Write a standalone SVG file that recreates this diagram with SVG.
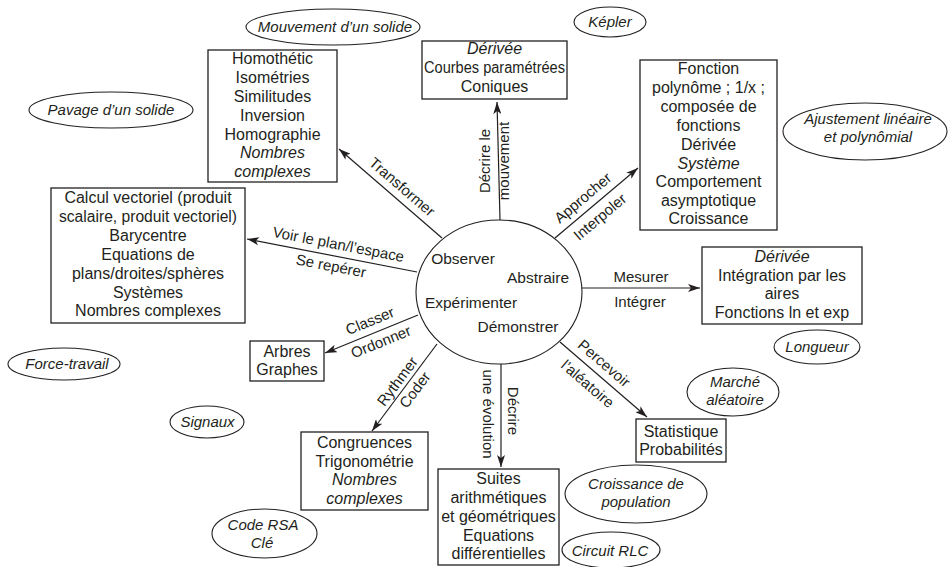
<svg xmlns="http://www.w3.org/2000/svg" width="948" height="567" viewBox="0 0 948 567">
<defs>
<marker id="arr" viewBox="0 0 12 8" refX="12" refY="4" markerWidth="12" markerHeight="8" markerUnits="userSpaceOnUse" orient="auto">
<path d="M0,0 L12,4 L0,8 L3,4 z" fill="#231f20"/>
</marker>
</defs>
<style>
text{font-family:"Liberation Sans",Arial,sans-serif;fill:#231f20;text-anchor:middle}
.b{font-size:16px}
.it{font-style:italic}
.e{font-size:15px;font-style:italic}
.l{font-size:15px}
.c{font-size:15.5px}
rect{fill:#fff;stroke:#231f20;stroke-width:1.3}
ellipse{fill:#fff;stroke:#231f20;stroke-width:1.1}
.cn path{fill:none;stroke:#231f20;stroke-width:1.2;marker-end:url(#arr)}
</style>
<rect x="0" y="0" width="948" height="567" style="fill:#fff;stroke:none"/>

<g id="connectors" class="cn">
<path d="M442,238 L339,149"/>
<path d="M417,272 L247,239"/>
<path d="M418,315 L325,353"/>
<path d="M437,344 L372,431"/>
<path d="M501,364 L501,467"/>
<path d="M560,342 L647,417"/>
<path d="M582,288 L700,288"/>
<path d="M555,238 L638,168"/>
<path d="M500,220 L497,102"/>
<text class="l" transform="translate(402,187) rotate(40.8)" y="5">Transformer</text>
<text class="l" transform="translate(338.5,244.5) rotate(11)" y="5">Voir le plan/l’espace</text>
<text class="l" transform="translate(331,266) rotate(11)" y="5">Se repérer</text>
<text class="l" transform="translate(370,321) rotate(-22.2)" y="5">Classer</text>
<text class="l" transform="translate(381,342) rotate(-22.2)" y="5">Ordonner</text>
<text class="l" transform="translate(397.5,381.5) rotate(-53.2)" y="5">Rythmer</text>
<text class="l" transform="translate(415,390) rotate(-53.2)" y="5">Coder</text>
<text class="l" transform="translate(583,198) rotate(-40.1)" y="5">Approcher</text>
<text class="l" transform="translate(600,217) rotate(-40.1)" y="5">Interpoler</text>
<text class="l" transform="translate(604,363.5) rotate(40.8)" y="5">Percevoir</text>
<text class="l" transform="translate(587.5,384) rotate(40.8)" y="5">l’aléatoire</text>
<text class="l" x="641" y="282">Mesurer</text>
<text class="l" x="640" y="306.5">Intégrer</text>
<text class="l" transform="translate(490,161) rotate(-90)">Décrire le</text>
<text class="l" transform="translate(509,161) rotate(-90)">mouvement</text>
<text class="l" transform="translate(483,414) rotate(90)">une évolution</text>
<text class="l" transform="translate(508,411) rotate(90)">Décrire</text>
</g>

<g id="centre">
<ellipse cx="499" cy="292" rx="83" ry="72"/>
<text class="c" x="463" y="264">Observer</text>
<text class="c" x="538" y="283">Abstraire</text>
<text class="c" x="471" y="308">Expérimenter</text>
<text class="c" x="518" y="332">Démonstrer</text>
</g>

<g id="transformations">
<rect x="208" y="50" width="129" height="132"/>
<text class="b" x="272.5" y="63.5">Homothétic</text>
<text class="b" x="272.5" y="82.5">Isométries</text>
<text class="b" x="272.5" y="101.5">Similitudes</text>
<text class="b" x="272.5" y="120.5">Inversion</text>
<text class="b" x="272.5" y="139.5">Homographie</text>
<text class="b it" x="272.5" y="158">Nombres</text>
<text class="b it" x="272.5" y="176.5">complexes</text>
</g>

<g id="derivee-courbes">
<rect x="422" y="41" width="145" height="58"/>
<text class="b it" x="494.5" y="53.5">Dérivée</text>
<text class="b" x="494.5" y="72.5" textLength="141" lengthAdjust="spacingAndGlyphs">Courbes paramétrées</text>
<text class="b" x="494.5" y="91.5">Coniques</text>
</g>

<g id="fonctions">
<rect x="640" y="60" width="137" height="170"/>
<text class="b" x="708.5" y="74">Fonction</text>
<text class="b" x="708.5" y="93">polynôme ; 1/x ;</text>
<text class="b" x="708.5" y="112">composée de</text>
<text class="b" x="708.5" y="131">fonctions</text>
<text class="b" x="708.5" y="150">Dérivée</text>
<text class="b it" x="708.5" y="168.5">Système</text>
<text class="b" x="708.5" y="187">Comportement</text>
<text class="b" x="708.5" y="205.5">asymptotique</text>
<text class="b" x="708.5" y="223.5">Croissance</text>
</g>

<g id="vectoriel">
<rect x="51" y="188" width="194" height="135"/>
<text class="b" x="148" y="203">Calcul vectoriel (produit</text>
<text class="b" x="148" y="222" textLength="178" lengthAdjust="spacingAndGlyphs">scalaire, produit vectoriel)</text>
<text class="b" x="148" y="241">Barycentre</text>
<text class="b" x="148" y="260">Equations de</text>
<text class="b" x="148" y="279">plans/droites/sphères</text>
<text class="b" x="148" y="297.5">Systèmes</text>
<text class="b" x="148" y="316">Nombres complexes</text>
</g>

<g id="integration">
<rect x="702" y="247" width="160" height="77"/>
<text class="b it" x="782" y="261.5">Dérivée</text>
<text class="b" x="782" y="280.5">Intégration par les</text>
<text class="b" x="782" y="299">aires</text>
<text class="b" x="782" y="317.5">Fonctions ln et exp</text>
</g>

<g id="graphes">
<rect x="250" y="341" width="74" height="40"/>
<text class="b" x="287" y="356.5">Arbres</text>
<text class="b" x="287" y="374.5">Graphes</text>
</g>

<g id="congruences">
<rect x="301" y="432" width="127" height="78"/>
<text class="b" x="364.5" y="447.5">Congruences</text>
<text class="b" x="364.5" y="466.5">Trigonométrie</text>
<text class="b it" x="364.5" y="485">Nombres</text>
<text class="b it" x="364.5" y="503.5">complexes</text>
</g>

<g id="suites">
<rect x="438" y="469" width="121" height="96"/>
<text class="b" x="498.5" y="484">Suites</text>
<text class="b" x="498.5" y="503">arithmétiques</text>
<text class="b" x="498.5" y="522">et géométriques</text>
<text class="b" x="498.5" y="540.5">Equations</text>
<text class="b" x="498.5" y="559">différentielles</text>
</g>

<g id="statistique">
<rect x="636" y="419" width="90" height="43"/>
<text class="b" x="681" y="436.5">Statistique</text>
<text class="b" x="681" y="454.5">Probabilités</text>
</g>

<g id="mouvement-solide">
<ellipse cx="333" cy="27" rx="87" ry="18"/>
<text class="e" x="335" y="32">Mouvement d’un solide</text>
</g>
<g id="kepler">
<ellipse cx="610" cy="22" rx="36" ry="15"/>
<text class="e" x="610" y="27">Képler</text>
</g>
<g id="pavage">
<ellipse cx="111" cy="110" rx="82" ry="18"/>
<text class="e" x="111" y="115">Pavage d’un solide</text>
</g>
<g id="ajustement">
<ellipse cx="865" cy="131.5" rx="82" ry="28.5"/>
<text class="e" x="868" y="124">Ajustement linéaire</text>
<text class="e" x="868" y="142">et polynômial</text>
</g>
<g id="force-travail">
<ellipse cx="64" cy="364" rx="56" ry="16"/>
<text class="e" x="67" y="369">Force-travail</text>
</g>
<g id="signaux">
<ellipse cx="207" cy="422" rx="37" ry="16"/>
<text class="e" x="207.5" y="427">Signaux</text>
</g>
<g id="code-rsa">
<ellipse cx="264.5" cy="533.5" rx="52.5" ry="24.5"/>
<text class="e" x="263" y="530">Code RSA</text>
<text class="e" x="262" y="548">Clé</text>
</g>
<g id="longueur">
<ellipse cx="817" cy="347" rx="43" ry="17"/>
<text class="e" x="817" y="352">Longueur</text>
</g>
<g id="marche-aleatoire">
<ellipse cx="733" cy="392" rx="46" ry="24"/>
<text class="e" x="735" y="387">Marché</text>
<text class="e" x="735" y="405">aléatoire</text>
</g>
<g id="croissance-population">
<ellipse cx="636" cy="494" rx="71" ry="29"/>
<text class="e" x="636" y="489">Croissance de</text>
<text class="e" x="636" y="507">population</text>
</g>
<g id="circuit-rlc">
<ellipse cx="611" cy="550" rx="49" ry="18"/>
<text class="e" x="610" y="556">Circuit RLC</text>
</g>
</svg>
